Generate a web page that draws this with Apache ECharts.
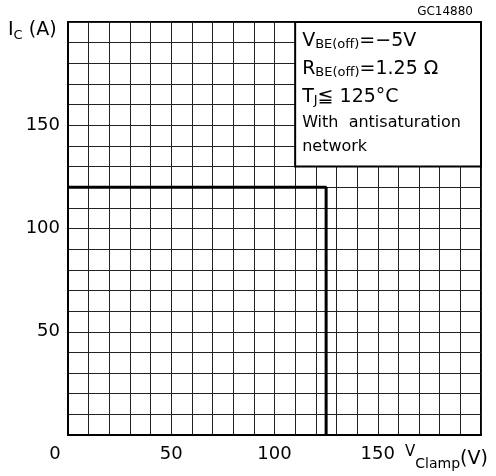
<!DOCTYPE html>
<html>
<head>
<meta charset="utf-8">
<script src="https://cdn.jsdelivr.net/npm/echarts@6/dist/echarts.min.js"></script>
<style>
  html, body { margin: 0; padding: 0; background: #fff; }
  #main { width: 496px; height: 476px; }
</style>
</head>
<body>
<div id="main"></div>
<script>
// safe operating area: clamp voltage vs collector current
var clampV = [0, 125, 125];
var collectorI = [120, 120, 0];
var xTicks = [0, 50, 100, 150];
var yTicks = [50, 100, 150];
var boxV = [110, 200];
var boxI = [130, 200];

var FONT = 'DejaVu Sans';
var chart = echarts.init(document.getElementById('main'));

var pts = clampV.map(function (v, i) { return [v, collectorI[i]]; });

var option = {
  animation: false,
  textStyle: { fontFamily: FONT, color: '#000' },
  grid: {
    left: 68, top: 22, width: 413, height: 413,
    show: true, borderColor: '#000', borderWidth: 2, backgroundColor: 'transparent'
  },
  xAxis: {
    type: 'value', min: 0, max: 200, interval: 10,
    axisLine: { show: true, lineStyle: { color: '#000', width: 2 } },
    axisTick: { show: false },
    splitLine: { show: true, lineStyle: { color: '#222', width: 1 } },
    axisLabel: {
      margin: 10, fontSize: 18, color: '#000', fontFamily: FONT,
      formatter: function (v) {
        if (v === 0) return '{z|0}';
        return xTicks.indexOf(v) >= 0 ? String(v) : '';
      },
      rich: { z: { fontSize: 18, fontFamily: FONT, color: '#000', padding: [0, 26, 0, 0] } }
    }
  },
  yAxis: {
    type: 'value', min: 0, max: 200, interval: 10,
    axisLine: { show: true, lineStyle: { color: '#000', width: 2 } },
    axisTick: { show: false },
    splitLine: { show: true, lineStyle: { color: '#222', width: 1 } },
    axisLabel: {
      margin: 8, fontSize: 18, color: '#000', fontFamily: FONT,
      formatter: function (v) { return yTicks.indexOf(v) >= 0 ? String(v) : ''; }
    }
  },
  graphic: [
    {
      type: 'text', left: 8, top: 21,
      style: {
        text: '{m|I}{s|C}{m| (A)}',
        rich: {
          m: { fontSize: 19, fontFamily: FONT, fill: '#000', lineHeight: 24 },
          s: { fontSize: 13, fontFamily: FONT, fill: '#000', lineHeight: 20, verticalAlign: 'bottom' }
        }
      }
    },
    {
      type: 'text', left: 405, top: 445,
      style: {
        text: '{v|V}{s|Clamp}{m|(V)}',
        rich: {
          v: { fontSize: 15, fontFamily: FONT, fill: '#000', lineHeight: 16, verticalAlign: 'top' },
          s: { fontSize: 14, fontFamily: FONT, fill: '#000', lineHeight: 20, verticalAlign: 'bottom', padding: [0, 0, 2, 0] },
          m: { fontSize: 19, fontFamily: FONT, fill: '#000', lineHeight: 28 }
        }
      }
    },
    {
      type: 'text', right: 23, top: 6,
      style: { text: 'GC14880', fontSize: 12, fontFamily: FONT, fill: '#000' }
    }
  ],
  series: [{
    type: 'line',
    data: pts,
    symbol: 'none',
    lineStyle: { color: '#000', width: 3 },
    markArea: {
      silent: true,
      itemStyle: { color: '#fff', borderColor: '#000', borderWidth: 2 },
      label: {
        show: true, position: 'insideTopLeft', distance: 0,
        padding: [6, 0, 0, 8],
        formatter: [
          '{a|V}{s|BE(off)}{a|=\u22125V}',
          '{a|R}{s|BE(off)}{a|=1.25 \u03a9}',
          '{a|T}{s|J}{a|\u2266 125\u00b0C}',
          '{b|With  antisaturation}',
          '{b|network}'
        ].join('\n'),
        rich: {
          a: { fontSize: 19, fontFamily: FONT, color: '#000', lineHeight: 28 },
          s: { fontSize: 13, fontFamily: FONT, color: '#000', lineHeight: 20, verticalAlign: 'bottom', padding: [0, 0, 4, 0] },
          b: { fontSize: 16, fontFamily: FONT, color: '#000', lineHeight: 24 }
        }
      },
      data: [[
        { xAxis: boxV[0], yAxis: boxI[0] },
        { xAxis: boxV[1], yAxis: boxI[1] }
      ]]
    }
  }]
};

chart.setOption(option);
</script>
</body>
</html>
